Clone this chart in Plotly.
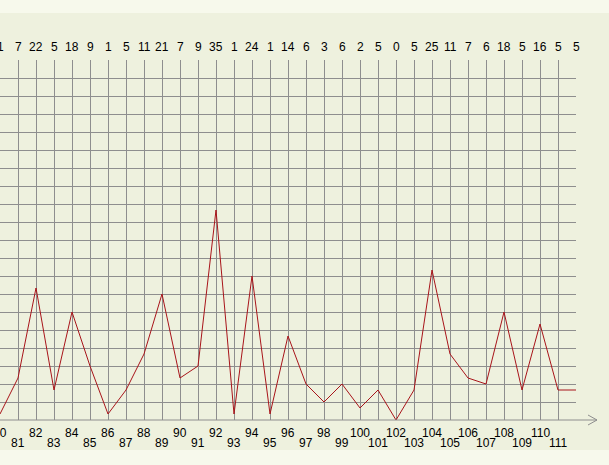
import plotly.graph_objects as go

categories = list(range(80, 113))
values = [1, 7, 22, 5, 18, 9, 1, 5, 11, 21, 7, 9, 35, 1, 24, 1, 14, 6, 3, 6,
          2, 5, 0, 5, 25, 11, 7, 6, 18, 5, 16, 5, 5]
tick_labels = [str(c) for c in categories[:-1]]

W, H = 609, 465
L, R, T, B = 0, 33, 60, 45
pw = W - L - R
ph = H - T - B

BG = "#EEF1DE"
GRID = "#8E8E8E"
LINE = "#A8141A"
FONT = dict(family="Liberation Sans, Arial, sans-serif", size=12, color="#000000")

fig = go.Figure()
fig.add_trace(go.Scatter(x=categories, y=values, mode="lines",
                         line=dict(color=LINE, width=1), hoverinfo="skip",
                         cliponaxis=False))

annotations = []
for c, v in zip(categories, values):
    annotations.append(dict(x=c, y=1, xref="x", yref="paper", yshift=13,
                            text=str(v), showarrow=False, font=FONT,
                            xanchor="center", yanchor="middle"))
for i, lab in enumerate(tick_labels):
    c = categories[i]
    shift = -13 if (c % 2 == 0) else -23
    annotations.append(dict(x=c, y=0, xref="x", yref="paper", yshift=shift,
                            text=lab, showarrow=False, font=FONT,
                            xanchor="center", yanchor="middle"))

shapes = [
    dict(type="rect", xref="paper", yref="paper", x0=-0.01, x1=1 + R / pw + 0.01,
         y0=1 + (T - 13) / ph, y1=1 + T / ph + 0.01, fillcolor="#F7F9EC",
         line=dict(width=0), layer="below"),
    dict(type="rect", xref="paper", yref="paper", x0=-0.01, x1=1 + R / pw + 0.01,
         y0=-B / ph - 0.01, y1=-(B - 15) / ph, fillcolor="#F7F9EC",
         line=dict(width=0), layer="below"),
    dict(type="line", xref="paper", yref="paper", x0=0, x1=1 + 21 / pw,
         y0=0, y1=0, line=dict(color=GRID, width=1)),
    dict(type="line", xref="paper", yref="paper", x0=1 + 21 / pw, x1=1 + 12 / pw,
         y0=0, y1=5 / ph, line=dict(color=GRID, width=1)),
    dict(type="line", xref="paper", yref="paper", x0=1 + 21 / pw, x1=1 + 12 / pw,
         y0=0, y1=-5 / ph, line=dict(color=GRID, width=1)),
]

fig.update_layout(
    width=W, height=H,
    margin=dict(l=L, r=R, t=T, b=B, pad=0),
    paper_bgcolor=BG, plot_bgcolor=BG,
    showlegend=False,
    annotations=annotations,
    shapes=shapes,
    xaxis=dict(range=[80, 112], dtick=1, tick0=80, showgrid=True,
               gridcolor=GRID, gridwidth=1, showticklabels=False,
               zeroline=False, showline=False, fixedrange=True),
    yaxis=dict(range=[0, 60], dtick=3, tick0=0, showgrid=True,
               gridcolor=GRID, gridwidth=1, showticklabels=False,
               zeroline=False, showline=False, fixedrange=True),
)

fig.write_html("out.html", config=dict(displayModeBar=False),
               post_script="document.body.style.margin='0';document.body.style.overflow='hidden';")
